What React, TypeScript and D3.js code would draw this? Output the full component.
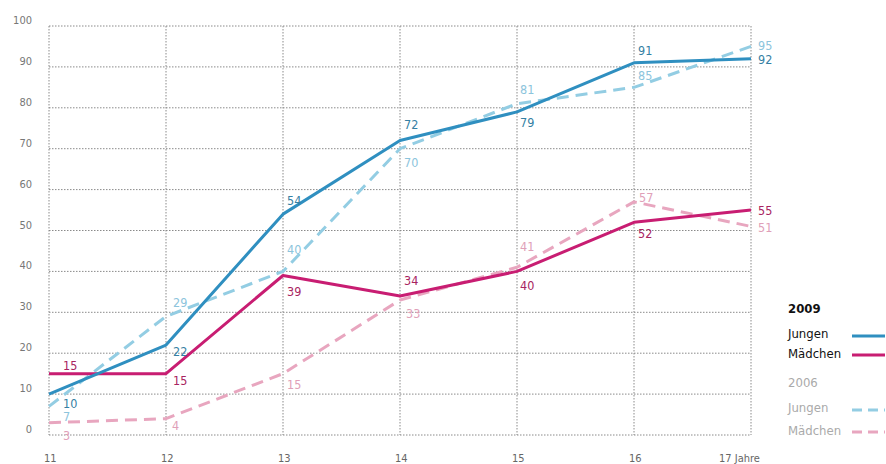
import React from "react";
import * as d3 from "d3";

const ages = [11, 12, 13, 14, 15, 16, 17];
const ageLabels = ["11", "12", "13", "14", "15", "16", "17 Jahre"];
const yTicks = [0, 10, 20, 30, 40, 50, 60, 70, 80, 90, 100];

const jungen2009 = [10, 22, 54, 72, 79, 91, 92];
const maedchen2009 = [15, 15, 39, 34, 40, 52, 55];
const jungen2006 = [7, 29, 40, 70, 81, 85, 95];
const maedchen2006 = [3, 4, 15, 33, 41, 57, 51];

// label offsets (dx, dy of label centre) relative to point
const offJ09 = [[14, 9], [7, 6], [4, -14], [4, -16], [3, 11], [4, -12], [7, 1]];
const offM09 = [[14, -8], [7, 7], [4, 16], [4, -15], [3, 14], [4, 11], [7, 0]];
const offJ06 = [[14, 10], [7, -14], [4, -22], [4, 14], [3, -14], [4, -12], [7, -1]];
const offM06 = [[14, 13], [6, 7], [4, 11], [6, 13], [3, -21], [5, -4], [7, 1]];

const FONT = "'DejaVu Sans Condensed', 'Liberation Sans Narrow', 'Roboto', sans-serif";

export default function App() {
  const W = 886, H = 464;
  const x = d3.scalePoint<number>().domain(ages).range([49, 751]);
  const y = d3.scaleLinear().domain([0, 100]).range([435, 26]);
  const line = d3.line<number>().x((_, i) => x(ages[i])!).y((v) => y(v));

  const series = [
    { data: maedchen2006, off: offM06, color: "#e8a6bf", label: "#e0a0b8", dash: "12 7" },
    { data: jungen2006, off: offJ06, color: "#93cde3", label: "#8cc4dc", dash: "12 7" },
    { data: maedchen2009, off: offM09, color: "#c81d72", label: "#a8245f", dash: null },
    { data: jungen2009, off: offJ09, color: "#2f8fc0", label: "#357fa3", dash: null },
  ];

  const gridColor = "#8a8a8a";

  return (
    <svg width={W} height={H} style={{ position: "absolute", left: 0, top: 0, fontFamily: FONT }}>
      <rect width={W} height={H} fill="#fff" />
      {yTicks.map((t) => (
        <g key={"y" + t}>
          <line x1={49} x2={751} y1={y(t)} y2={y(t)} stroke={gridColor} strokeWidth={1} strokeDasharray="1.5 1.5" />
          <text x={32} y={y(t) - 2} textAnchor="end" fontSize={11} fill="#777">{t}</text>
        </g>
      ))}
      {ages.map((a, i) => (
        <g key={"x" + a}>
          <line x1={x(a)} x2={x(a)} y1={y(100)} y2={y(0)} stroke={gridColor} strokeWidth={1} strokeDasharray="1.5 1.5" />
          <text x={i === ages.length - 1 ? 719 : x(a)! - 5} y={462} textAnchor="start" fontSize={11} fill="#666">{ageLabels[i]}</text>
        </g>
      ))}
      {series.map((s, k) => (
        <path key={"l" + k} d={line(s.data)!} fill="none" stroke={s.color} strokeWidth={3}
          strokeDasharray={s.dash ?? undefined} strokeLinejoin="round" />
      ))}
      {series.map((s, k) =>
        s.data.map((v, i) => (
          <text key={"t" + k + i} x={x(ages[i])! + s.off[i][0]} y={y(v) + s.off[i][1] + 4.5}
            fontSize={12.5} fill={s.label}>{v}</text>
        ))
      )}
      <g fontSize={13}>
        <text x={788} y={313} fontWeight="bold" fill="#111">2009</text>
        <text x={788} y={338} fill="#111">Jungen</text>
        <text x={788} y={358} fill="#111">Mädchen</text>
        <line x1={852} x2={885} y1={336} y2={336} stroke="#2f8fc0" strokeWidth={3} />
        <line x1={852} x2={885} y1={355} y2={355} stroke="#c81d72" strokeWidth={3} />
        <text x={788} y={387} fill="#aaa">2006</text>
        <text x={788} y={412} fill="#aaa">Jungen</text>
        <text x={788} y={435} fill="#aaa">Mädchen</text>
        <line x1={852} x2={885} y1={410} y2={410} stroke="#93cde3" strokeWidth={3} strokeDasharray="10 6" />
        <line x1={852} x2={885} y1={432} y2={432} stroke="#e8a6bf" strokeWidth={3} strokeDasharray="10 6" />
      </g>
    </svg>
  );
}
